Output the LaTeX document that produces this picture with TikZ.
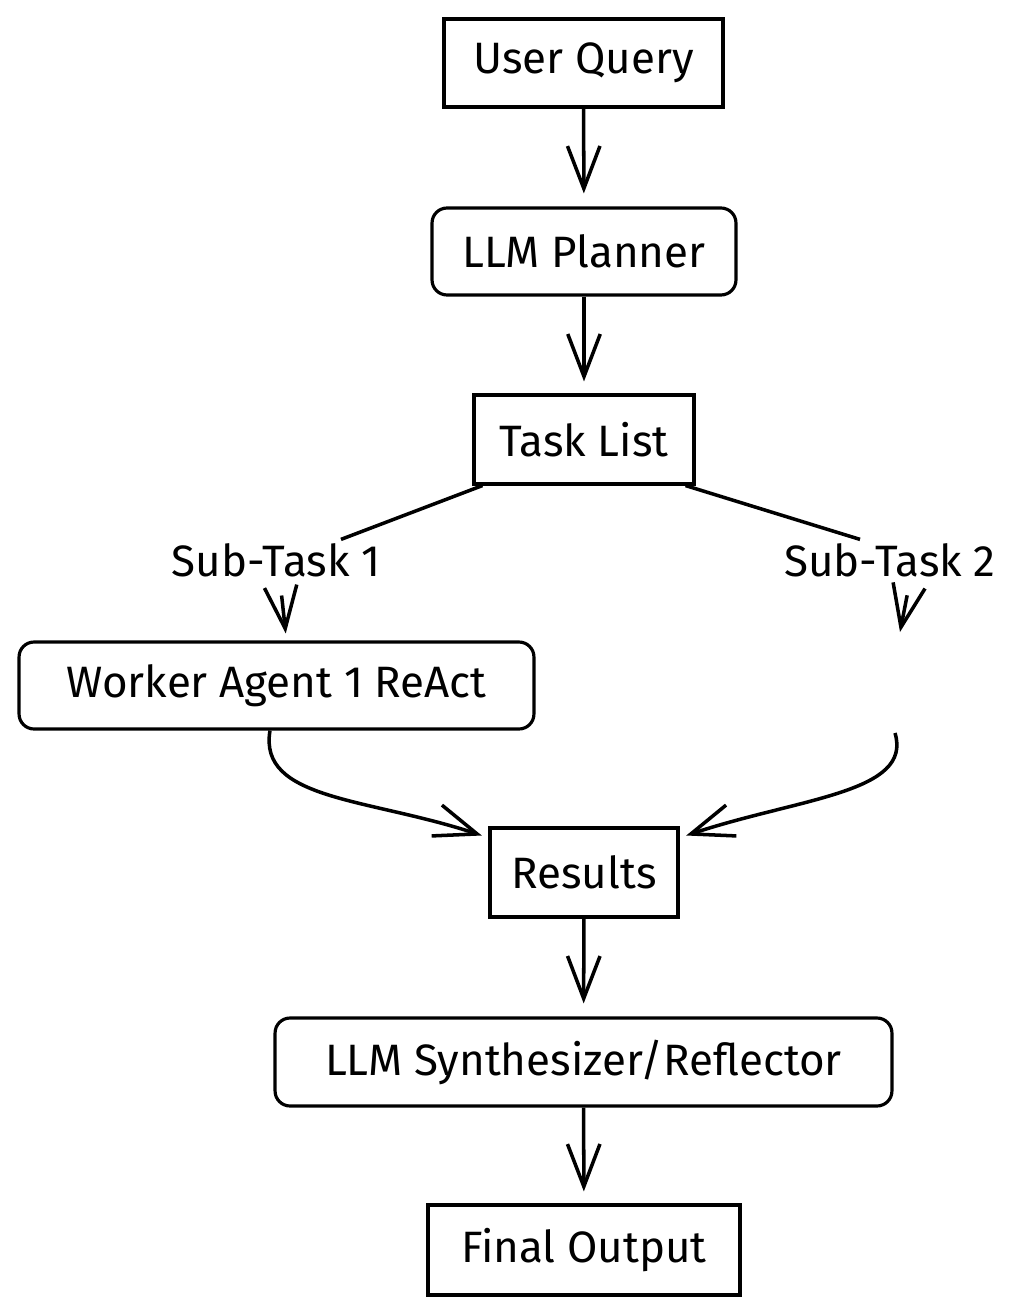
\documentclass[tikz,border=0pt]{standalone}
\usepackage{fontspec}
\setmainfont{Fira Sans}
\usetikzlibrary{arrows.meta}

\begin{document}
\begin{tikzpicture}[x=0.02cm, y=-0.02cm,
    box/.style={draw, line width=1.8pt, inner sep=0pt, font=\fontsize{25}{29}\selectfont},
    roundbox/.style={box, rounded corners=0.3cm},
    lbl/.style={inner sep=2pt, font=\fontsize{25}{29}\selectfont},
    link/.style={line width=2pt},
    arr/.style={link, -{Straight Barb[length=0.85cm, width=0.65cm, line width=2pt]}}]
    \useasboundingbox (0,0) rectangle (1024,1314);

    % Main column
    \node[box, minimum width=5.58cm, minimum height=1.76cm] (query) at (583.5,63) {User Query};
    \node[roundbox, minimum width=6.08cm, minimum height=1.74cm] (planner) at (584,251.5) {LLM Planner};
    \node[box, minimum width=4.4cm, minimum height=1.78cm] (tasks) at (584,439.5) {Task List};
    \node[box, minimum width=3.76cm, minimum height=1.78cm] (results) at (584,872.5) {Results};
    \node[roundbox, minimum width=12.34cm, minimum height=1.76cm] (synth) at (583.5,1062) {LLM Synthesizer/Reflector};
    \node[box, minimum width=6.24cm, minimum height=1.8cm] (final) at (584,1250) {Final Output};

    % Branches
    \node[lbl] (sub1) at (276,560) {Sub-Task 1};
    \node[lbl] (sub2) at (890,560) {Sub-Task 2};
    \node[roundbox, minimum width=10.3cm, minimum height=1.74cm] (worker) at (276.5,685.5) {Worker Agent 1 ReAct};
    \coordinate (open2) at (900,632);
    \coordinate (from2) at (895,733);

    % Arrows
    \draw[arr, shorten >=0.26cm] (query) -- (planner);
    \draw[arr, shorten >=0.24cm] (planner) -- (tasks);
    \draw[link] ([xshift=0.2cm]tasks.south west) -- ([xshift=1.3cm]sub1.north);
    \draw[link] ([xshift=-0.2cm]tasks.south east) -- ([xshift=-0.6cm]sub2.north);
    \draw[arr, shorten <=0.3cm, shorten >=0.14cm] ([xshift=0.08cm]sub1.south) -- ([xshift=0.2cm]worker.north);
    \draw[arr, shorten <=0.3cm] ([xshift=0.4cm]sub2.south) -- (open2);
    \draw[arr, shorten >=0.14cm] ([xshift=-0.13cm]worker.south) .. controls +(-12,70) and +(-120,-40) .. (results.160);
    \draw[arr, shorten >=0.14cm] (from2) .. controls +(18,60) and +(120,-40) .. (results.20);
    \draw[arr, shorten >=0.26cm] (results) -- (synth);
    \draw[arr, shorten >=0.24cm] (synth) -- (final);
\end{tikzpicture}
\end{document}
